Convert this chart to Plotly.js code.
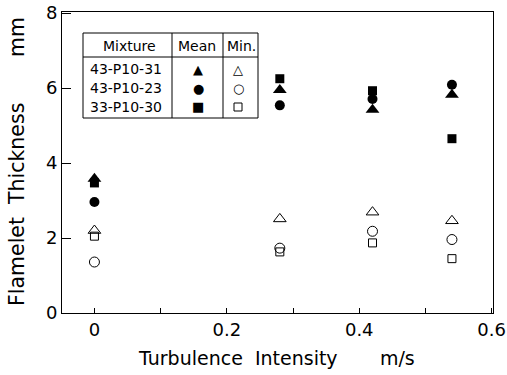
<!DOCTYPE html>
<html><head><meta charset="utf-8">
<script src="https://cdn.plot.ly/plotly-3.0.1.min.js"></script>
<style>html,body{margin:0;padding:0;background:#fff}#chart{width:507px;height:375px}</style>
</head><body><div id="chart"></div>
<script>
// Data
const mixtures = ["43-P10-31", "43-P10-23", "33-P10-30"];
const xInt = [0, 0.28, 0.42, 0.54];
const meanA = [3.58, 5.95, 5.42, 5.82];   // 43-P10-31 mean (filled triangle)
const meanB = [2.96, 5.54, 5.71, 6.09];   // 43-P10-23 mean (filled circle)
const meanC = [3.47, 6.25, 5.93, 4.65];   // 33-P10-30 mean (filled square)
const minA  = [2.20, 2.51, 2.69, 2.46];   // open triangle
const minB  = [1.36, 1.73, 2.18, 1.96];   // open circle
const minC  = [2.05, 1.63, 1.87, 1.45];   // open square
const xTicks = [0, 0.1, 0.2, 0.3, 0.4, 0.5, 0.6];
const xTickText = ["0", "", "0.2", "", "0.4", "", "0.6"];
const yTicks = [0, 2, 4, 6, 8];

const FONT = "DejaVu Sans, Verdana, sans-serif";
function tr(y, sym, size, name) {
  const open = sym.indexOf("open") >= 0;
  return {x: xInt, y: y, mode: "markers", type: "scatter", name: name, showlegend: false,
    marker: {symbol: sym, size: size, color: "#000", line: {color: "#000", width: open ? 1 : 0}}};
}
const data = [
  tr(minA, "triangle-up-open", 11, "min A"),
  tr(minB, "circle-open", 10, "min B"),
  tr(minC, "square-open", 8, "min C"),
  tr(meanA, "triangle-up", 12, "mean A"),
  tr(meanB, "circle", 10, "mean B"),
  tr(meanC, "square", 9, "mean C")
];

// legend table in paper coordinates
const L = 62, R = 493, T = 12, B = 313;
const px = v => (v - L) / (R - L);
const py = v => (B - v) / (B - T);
const ln = {color: "#000", width: 1};
const shapes = [
  {type: "rect", xref: "paper", yref: "paper", x0: px(83), x1: px(258), y0: py(118), y1: py(33), line: ln},
  {type: "line", xref: "paper", yref: "paper", x0: px(83), x1: px(258), y0: py(57), y1: py(57), line: ln},
  {type: "line", xref: "paper", yref: "paper", x0: px(172), x1: px(172), y0: py(118), y1: py(33), line: ln},
  {type: "line", xref: "paper", yref: "paper", x0: px(223), x1: px(223), y0: py(118), y1: py(33), line: ln},
  // open-square key symbol
  {type: "rect", xref: "paper", yref: "paper", x0: px(234), x1: px(242), y0: py(111), y1: py(103),
   line: {color: "#000", width: 1}}
];
function ann(text, x, y, size, extra) {
  return Object.assign({text: text, xref: "paper", yref: "paper", x: px(x), y: py(y), showarrow: false,
    xanchor: "center", yanchor: "middle", font: {family: FONT, size: size, color: "#000"}}, extra || {});
}
const rowsY = [69, 88, 107];
const meanSym = ["▲", "●", "■"];
const minSym = ["△", "○", ""];
const annotations = [
  ann("Mixture", 129, 46, 14), ann("Mean", 197, 46, 14), ann("Min.", 241, 46, 14)
];
mixtures.forEach((m, i) => {
  annotations.push(ann(m, 126, rowsY[i], 14));
  annotations.push(ann(meanSym[i], 198, rowsY[i], 13));
  if (minSym[i]) annotations.push(ann(minSym[i], 238, rowsY[i], 13));
});
const NB = "\u00a0";
annotations.push(ann("Turbulence" + NB + NB + "Intensity" + NB.repeat(7) + "m/s", 276, 358, 19));
annotations.push({text: "Flamelet" + NB + NB + "Thickness" + NB.repeat(7) + "mm", xref: "paper", yref: "paper",
  x: 0, y: py(162), xshift: -(62 - 17), showarrow: false, textangle: -90, xanchor: "center", yanchor: "middle",
  font: {family: FONT, size: 20.5, color: "#000"}});

const layout = {
  width: 507, height: 375,
  margin: {l: 62, r: 14, t: 12, b: 62},
  paper_bgcolor: "#fff", plot_bgcolor: "#fff",
  font: {family: FONT, color: "#000"},
  showlegend: false,
  xaxis: {range: [-0.049, 0.602], tickvals: xTicks, ticktext: xTickText, ticks: "inside", ticklen: 5,
    tickcolor: "#000", showline: true, mirror: true, linecolor: "#000", linewidth: 1, showgrid: false,
    zeroline: false, tickfont: {size: 18, family: FONT}},
  yaxis: {range: [0, 8.03], tickvals: yTicks, ticks: "inside", ticklen: 9, tickcolor: "#000",
    showline: true, mirror: true, linecolor: "#000", linewidth: 1, showgrid: false, zeroline: false,
    tickfont: {size: 18, family: FONT}},
  shapes: shapes,
  annotations: annotations
};
Plotly.newPlot("chart", data, layout, {displayModeBar: false, staticPlot: true});
</script></body></html>
